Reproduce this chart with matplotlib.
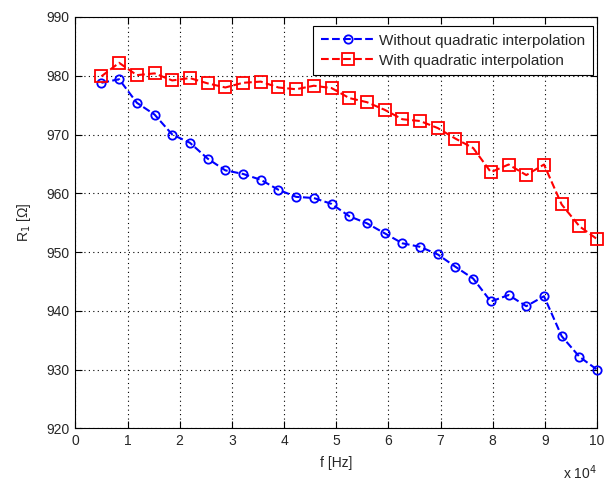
# -*- coding: utf-8 -*-
# R1 vs frequency, with and without quadratic interpolation.

import numpy as np
import matplotlib
matplotlib.use("Agg")
import matplotlib.pyplot as plt
from matplotlib.ticker import FuncFormatter

plt.rcParams['font.family'] = ['Liberation Sans', 'DejaVu Sans']

# frequency [Hz]
freq = [5000, 8390, 11790, 15180, 18570, 21960, 25360, 28750, 32140, 35540,
        38930, 42320, 45710, 49110, 52500, 55890, 59290, 62680, 66070, 69460,
        72860, 76250, 79640, 83040, 86430, 89820, 93210, 96610, 100000]

r1_without = [978.8, 979.4, 975.4, 973.4, 970.0, 968.6, 965.9, 963.9, 963.3, 962.3,
              960.6, 959.4, 959.2, 958.2, 956.1, 954.9, 953.2, 951.5, 950.9, 949.6,
              947.5, 945.5, 941.6, 942.7, 940.8, 942.5, 935.7, 932.2, 930.0]

r1_with = [979.9, 982.2, 980.1, 980.4, 979.2, 979.6, 978.7, 978.0, 978.8, 979.0,
           978.0, 977.7, 978.3, 977.9, 976.2, 975.5, 974.2, 972.6, 972.3, 971.1,
           969.3, 967.7, 963.6, 964.9, 963.1, 964.9, 958.1, 954.4, 952.2]

labels = ["Without quadratic interpolation", "With quadratic interpolation"]

text_color = '#262626'
font_size = 10

fig = plt.figure(figsize=(6.06, 4.84), dpi=100)
ax = fig.add_axes([0.1243, 0.1147, 0.8610, 0.8503])

ax.plot(freq, r1_without, linestyle='--', color='#0000ff', linewidth=1.5,
        marker='o', markersize=6, markerfacecolor='none', markeredgewidth=1.3,
        label=labels[0], clip_on=False, zorder=3)
ax.plot(freq, r1_with, linestyle='--', color='#ff0000', linewidth=1.5,
        marker='s', markersize=8, markerfacecolor='none', markeredgewidth=1.3,
        label=labels[1], clip_on=False, zorder=3)

ax.set_xlim(0, 100000)
ax.set_ylim(920, 990)
ax.set_xticks(np.arange(0, 100001, 10000))
ax.set_yticks(np.arange(920, 991, 10))
ax.xaxis.set_major_formatter(FuncFormatter(lambda v, p: "%d" % round(v / 1e4)))

ax.grid(True, color='black', linestyle=(0, (1, 3)), linewidth=0.8)
ax.tick_params(direction='in', top=True, right=True, length=5, width=0.8,
               labelsize=font_size, labelcolor=text_color, pad=4)
for s in ax.spines.values():
    s.set_linewidth(0.8)
    s.set_color('black')

ax.set_xlabel("f [Hz]", fontsize=font_size, color=text_color, labelpad=6)
ax.set_ylabel("R$_1$ [\u03a9]", fontsize=font_size, color=text_color, labelpad=10)
ax.text(1.0, -0.085, "x 10$^4$", transform=ax.transAxes, ha='right', va='top',
        fontsize=font_size, color=text_color)

leg = ax.legend(loc='upper right', bbox_to_anchor=(0.9925, 0.978), borderaxespad=0,
                fontsize=11, frameon=True, fancybox=False, framealpha=1,
                handlelength=3.6, borderpad=0.5,
                labelspacing=0.4, handletextpad=0.25)
leg.get_frame().set_edgecolor('black')
leg.get_frame().set_linewidth(0.8)
for t in leg.get_texts():
    t.set_color(text_color)

plt.savefig("out.png", dpi=100)
